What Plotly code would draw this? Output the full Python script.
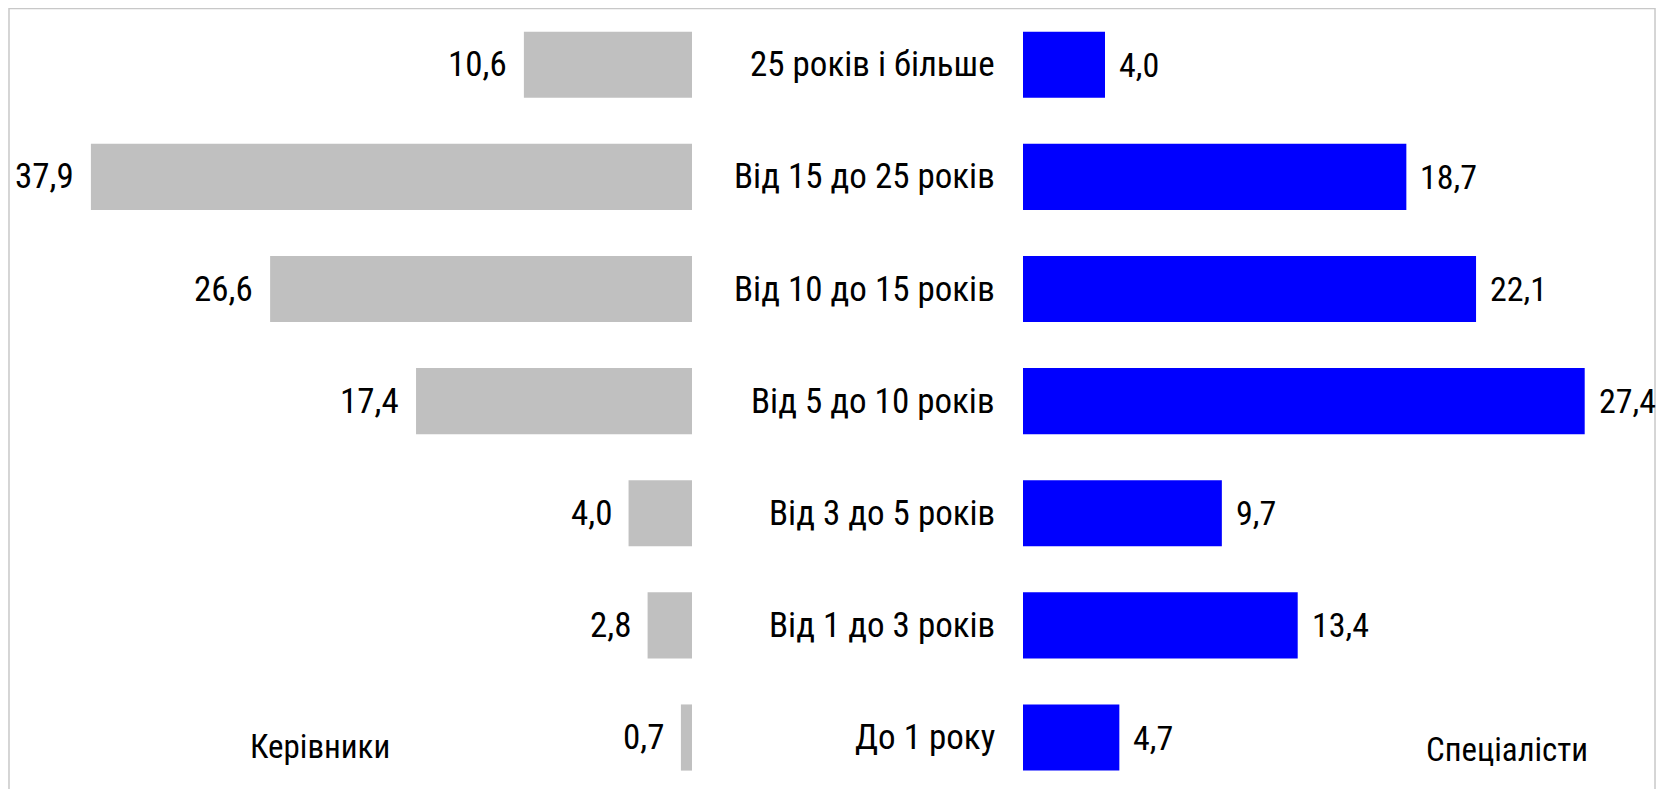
import plotly.graph_objects as go

categories = ["25 років і більше", "Від 15 до 25 років", "Від 10 до 15 років",
              "Від 5 до 10 років", "Від 3 до 5 років", "Від 1 до 3 років", "До 1 року"]
managers = [10.6, 37.9, 26.6, 17.4, 4.0, 2.8, 0.7]
specialists = [4.0, 18.7, 22.1, 27.4, 9.7, 13.4, 4.7]
left_title = "Керівники"
right_title = "Спеціалісти"

# page has an 8px body margin; figure sized to fit inside the window
W, H = 1648, 781
FONT = ("Liberation Sans Narrow, Arial Narrow, Roboto Condensed, Noto Sans ExtraCondensed, "
        "Noto Sans Condensed, DejaVu Sans Condensed, sans-serif")
FS = 35

def fmt(v):
    return f"{v:.1f}".replace(".", ",")

fig = go.Figure()
fig.add_trace(go.Bar(y=categories, x=managers, orientation="h", xaxis="x", yaxis="y",
                     marker=dict(color="#C0C0C0", line=dict(width=0)), showlegend=False,
                     hoverinfo="skip"))
fig.add_trace(go.Bar(y=categories, x=specialists, orientation="h", xaxis="x2", yaxis="y",
                     marker=dict(color="#0000FF", line=dict(width=0)), showlegend=False,
                     hoverinfo="skip"))

ann = []
for c, v in zip(categories, managers):
    ann.append(dict(x=v, y=c, xref="x", yref="y", text=fmt(v), showarrow=False,
                    xanchor="right", xshift=-15, font=dict(family=FONT, size=FS, color="black")))
for c, v in zip(categories, specialists):
    ann.append(dict(x=v, y=c, xref="x2", yref="y", text=fmt(v), showarrow=False,
                    xanchor="left", xshift=12, font=dict(family=FONT, size=FS - 1, color="black")))
for c in categories:
    ann.append(dict(x=989 / W, y=c, xref="paper", yref="y", text=c, showarrow=False,
                    xanchor="right", font=dict(family=FONT, size=FS, color="black")))
ann.append(dict(x=312 / W, y=categories[-1], xref="paper", yref="y", text=left_title,
                showarrow=False, xanchor="center", yshift=-9,
                font=dict(family=FONT, size=FS - 2, color="black")))
ann.append(dict(x=1499 / W, y=categories[-1], xref="paper", yref="y", text=right_title,
                showarrow=False, xanchor="center", yshift=-12,
                font=dict(family=FONT, size=FS - 2, color="black")))

left_px = 684
right_px = 1015
left_scale = 15.86
right_scale = 20.5

fig.update_layout(
    width=W, height=H,
    margin=dict(l=0, r=0, t=0, b=0),
    paper_bgcolor="white", plot_bgcolor="white",
    bargap=0.41,
    xaxis=dict(domain=[0, left_px / W], range=[left_px / left_scale, 0],
               visible=False, fixedrange=True),
    xaxis2=dict(domain=[right_px / W, 1], range=[0, (W - right_px) / right_scale],
                visible=False, fixedrange=True),
    yaxis=dict(range=[6.459, -0.506], visible=False, fixedrange=True),
    annotations=ann,
    shapes=[dict(type="path", xref="paper", yref="paper",
                 path="M 0.0006,-0.1 L 0.0006,0.9993 L 0.9994,0.9993 L 0.9994,-0.1",
                 line=dict(color="#C8C8C8", width=1.5), layer="below")],
)
fig.write_html("out.html")
